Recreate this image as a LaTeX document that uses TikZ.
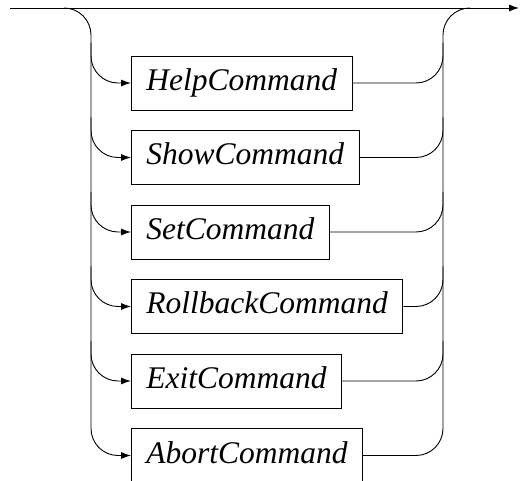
\documentclass[tikz,border=0pt]{standalone}
\usepackage{fontspec}
\setmainfont{Liberation Serif}
\usetikzlibrary{arrows.meta}
\newcommand\cmdfont{\fontsize{31.5}{36}\selectfont\itshape}
\begin{document}
\begin{tikzpicture}[x=1pt,y=-1pt,line width=0.9pt,
  cmd/.style={draw,font=\cmdfont,minimum height=54pt,inner xsep=15pt,inner ysep=0pt,
    text height=22pt,text depth=7pt,anchor=west},
  rail/.style={draw,rounded corners=27pt},
  >={Latex[length=10pt,width=7pt]}]
\useasboundingbox (0,0) rectangle (520,481);
% main line
\coordinate (start) at (10,8);
\coordinate (finish) at (519,8);
\coordinate (lsplit) at (64,8);
\coordinate (rjoin) at (470,8);
\draw[->] (start) -- (finish);
% boxes
\node[cmd] (help) at (131,83) {HelpCommand};
\node[cmd] (show) at (131,157.5) {ShowCommand};
\node[cmd] (set) at (131,232) {SetCommand};
\node[cmd] (rollback) at (131,306.5) {RollbackCommand};
\node[cmd] (exit) at (131,381) {ExitCommand};
\node[cmd] (abort) at (131,455.5) {AbortCommand};
% rails
\coordinate (lrail) at (91,8);
\coordinate (rrail) at (443,8);
\path[rail,->] (lsplit) -| (lrail |- abort.west) -- (abort.west);
\foreach \n in {help,show,set,rollback,exit}{
  \coordinate (l\n) at ([yshift=40pt]lrail |- \n.west);
  \path[rail,->] (l\n) |- (\n.west);
  \coordinate (r\n) at ([yshift=40pt]rrail |- \n.east);
  \path[rail] (\n.east) -| (r\n);
}
\path[rail] (abort.east) -| (rrail) -- (rjoin);
\end{tikzpicture}
\end{document}
